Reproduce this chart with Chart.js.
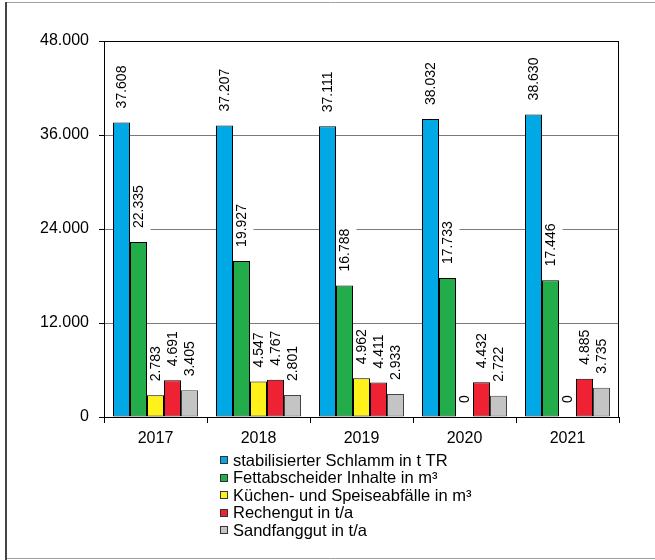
<!DOCTYPE html>
<html lang="de">
<head>
    <meta charset="UTF-8">
    <title>Reststoffe Kläranlage</title>
    <script src="https://cdn.jsdelivr.net/npm/chart.js"></script>
    <style>
        html, body { margin: 0; padding: 0; background: #fff; }
        #wrap { width: 655px; height: 560px; position: relative; }
    </style>
</head>
<body>
    <div id="wrap">
        <canvas id="reststoffChart"></canvas>
    </div>
    <script>
        // Werte aus der Grafik
        const years = ['2017', '2018', '2019', '2020', '2021'];
        const schlamm = [37608, 37207, 37111, 38032, 38630];
        const fettabscheider = [22335, 19927, 16788, 17733, 17446];
        const kuechenabfaelle = [2783, 4547, 4962, 0, 0];
        const rechengut = [4691, 4767, 4411, 4432, 4885];
        const sandfanggut = [3405, 2801, 2933, 2722, 3735];
        const yTicks = [0, 12000, 24000, 36000, 48000];

        const seriesNames = [
            'stabilisierter Schlamm in t TR',
            'Fettabscheider Inhalte in m³',
            'Küchen- und Speiseabfälle in m³',
            'Rechengut in t/a',
            'Sandfanggut in t/a'
        ];
        const colors = ['#00A9E6', '#22AC4A', '#FFF21A', '#EE2232', '#C4C4C4'];
        const borders = ['#000', '#000', '#000', '#000', '#444'];
        const FONT = '"Liberation Sans", Arial, sans-serif';

        // Tausenderpunkt wie im Original
        function fmt(v) {
            return String(Math.round(v)).replace(/\B(?=(\d{3})+(?!\d))/g, '.');
        }

        function eachLabel(chart, fn) {
            const ctx = chart.ctx;
            ctx.font = '14px ' + FONT;
            chart.data.datasets.forEach((ds, i) => {
                chart.getDatasetMeta(i).data.forEach((bar, j) => {
                    const txt = fmt(ds.data[j]);
                    fn(ctx, bar, txt, ctx.measureText(txt).width);
                });
            });
        }

        // Rahmen, Plotrahmen, Beschriftungen und Legende
        const decorations = {
            id: 'decorations',
            beforeDraw(chart) {
                const ctx = chart.ctx;
                ctx.save();
                ctx.fillStyle = '#fff';
                ctx.fillRect(0, 0, chart.width, chart.height);
                ctx.lineWidth = 1;
                ctx.strokeStyle = '#a0a0a0';
                ctx.beginPath();
                ctx.moveTo(6, 2.5); ctx.lineTo(chart.width, 2.5);
                ctx.moveTo(6, 558.5); ctx.lineTo(chart.width, 558.5);
                ctx.stroke();
                ctx.strokeStyle = '#444';
                ctx.lineWidth = 2;
                ctx.beginPath();
                ctx.moveTo(6, 2); ctx.lineTo(6, 560);
                ctx.stroke();
                ctx.restore();
            },
            beforeDatasetsDraw(chart) {
                // weisse Flaechen hinter den Beschriftungen unterbrechen die Gitterlinien
                chart.ctx.save();
                eachLabel(chart, (ctx, bar, txt, w) => {
                    ctx.fillStyle = '#fff';
                    ctx.fillRect(bar.x - 12, bar.y - 14 - w - 3, 24, w + 6);
                });
                chart.ctx.restore();
            },
            afterDatasetsDraw(chart) {
                const ctx = chart.ctx;
                const a = chart.chartArea;
                ctx.save();
                ctx.strokeStyle = '#000';
                ctx.lineWidth = 1;
                ctx.strokeRect(Math.round(a.left) + 0.5, Math.round(a.top) + 0.5,
                    Math.round(a.right - a.left) - 1, Math.round(a.bottom - a.top));

                // senkrechte Wertebeschriftung
                eachLabel(chart, (c, bar, txt) => {
                    c.save();
                    c.translate(bar.x, bar.y - 14);
                    c.rotate(-Math.PI / 2);
                    c.fillStyle = '#000';
                    c.textAlign = 'left';
                    c.textBaseline = 'middle';
                    c.fillText(txt, 0, 1);
                    c.restore();
                });

                // Legende untereinander
                ctx.font = '16.5px ' + FONT;
                ctx.textAlign = 'left';
                ctx.textBaseline = 'middle';
                chart.data.datasets.forEach((ds, i) => {
                    const y = 460 + i * 17.6;
                    ctx.fillStyle = ds.backgroundColor;
                    ctx.fillRect(220, Math.round(y) - 4, 8, 8);
                    ctx.strokeStyle = '#333';
                    ctx.strokeRect(220.5, Math.round(y) - 3.5, 7, 7);
                    ctx.fillStyle = '#000';
                    ctx.fillText(ds.label, 233, y + 1);
                });
                ctx.restore();
            }
        };

        const allSeries = [schlamm, fettabscheider, kuechenabfaelle, rechengut, sandfanggut];

        new Chart(document.getElementById('reststoffChart'), {
            type: 'bar',
            data: {
                labels: years,
                datasets: allSeries.map((values, i) => ({
                    label: seriesNames[i],
                    data: values,
                    backgroundColor: colors[i],
                    borderColor: borders[i],
                    borderWidth: 1,
                    borderSkipped: false,
                    inflateAmount: 0,
                    categoryPercentage: 85 / 103,
                    barPercentage: 1.0
                }))
            },
            options: {
                responsive: true,
                maintainAspectRatio: false,
                animation: false,
                devicePixelRatio: 1,
                layout: { padding: { top: 41, right: 36, left: 0, bottom: 0 } },
                plugins: {
                    legend: { display: false },
                    tooltip: { enabled: false }
                },
                scales: {
                    x: {
                        afterFit(scale) { scale.height = 143; },
                        grid: {
                            offset: true,
                            drawOnChartArea: false,
                            tickLength: 6,
                            tickColor: '#000',
                            color: '#000'
                        },
                        border: { display: true, color: '#000' },
                        ticks: {
                            color: '#000',
                            padding: 6,
                            maxRotation: 0,
                            font: { family: FONT, size: 16 }
                        }
                    },
                    y: {
                        min: 0,
                        max: 48000,
                        afterFit(scale) { scale.width = 104; },
                        afterBuildTicks(scale) {
                            scale.ticks = yTicks.map(v => ({ value: v }));
                        },
                        grid: {
                            color: '#7a7a7a',
                            tickColor: '#000',
                            tickLength: 5
                        },
                        border: { display: true, color: '#000' },
                        ticks: {
                            color: '#000',
                            padding: 10,
                            font: { family: FONT, size: 16 },
                            callback: v => fmt(v)
                        }
                    }
                }
            },
            plugins: [decorations]
        });
    </script>
</body>
</html>
